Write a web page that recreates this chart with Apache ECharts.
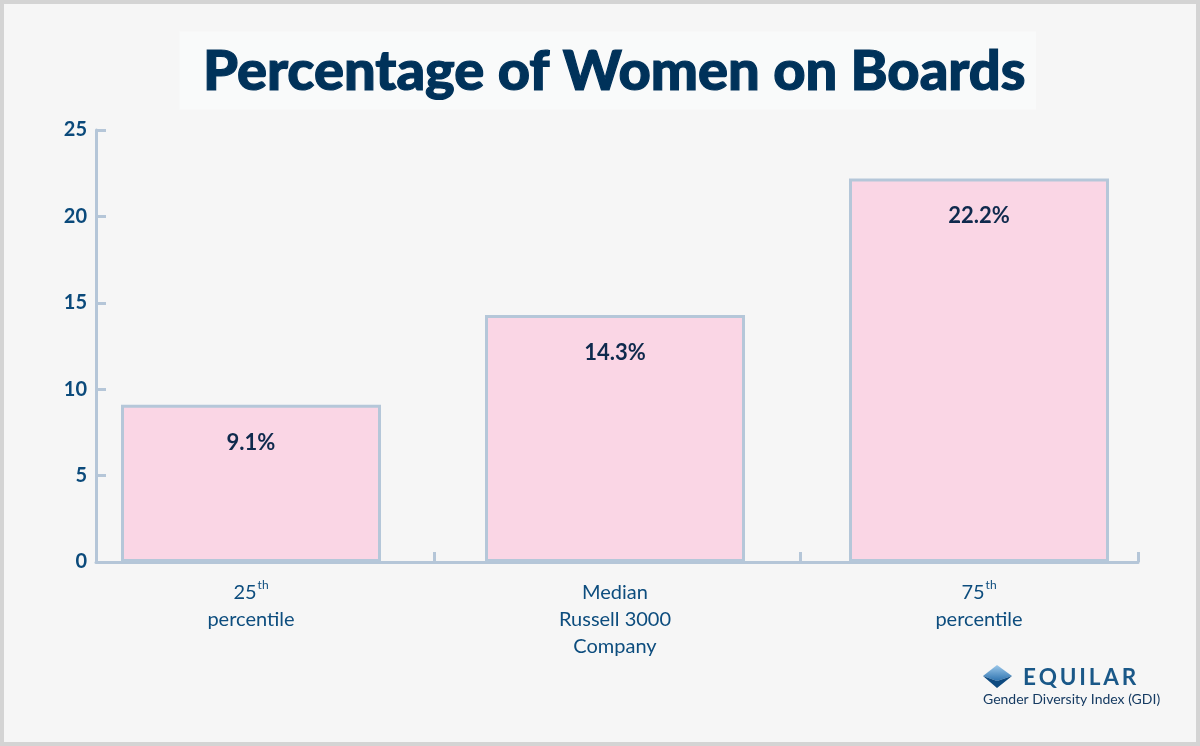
<!DOCTYPE html>
<html>
<head>
<meta charset="utf-8">
<script src="https://cdn.jsdelivr.net/npm/echarts@6/dist/echarts.min.js"></script>
<style>
html,body{margin:0;padding:0;background:#f6f6f6;}
#wrap{position:relative;width:1200px;height:746px;background:#f6f6f6;box-shadow:inset 0 0 0 4px #d4d4d4;}
#chart{position:absolute;left:0;top:0;width:1200px;height:746px;}
</style>
</head>
<body>
<div id="wrap"><div id="chart"></div></div>
<script>
const titleText = 'Percentage of Women on Boards';
const categories = ['{n|25}{s|th}\n{n|percentile}', '{n|Median}\n{n|Russell 3000}\n{n|Company}', '{n|75}{s|th}\n{n|percentile}'];
const values = [9.1, 14.3, 22.2];
const yTicks = [0, 5, 10, 15, 20, 25];

const axisColor = '#b5c6d8';
// fine slots used only to place the x-axis tick marks
const slotCount = 37;
const tickSlots = [0, 12, 25];
const slots = Array.from({length: slotCount}, function (_, i) { return 's' + i; });

const chart = echarts.init(document.getElementById('chart'));
chart.setOption({
  animation: false,
  title: {
    text: titleText,
    left: 180, top: 32,
    padding: [12, 10, 9, 23],
    backgroundColor: '#f9fafa',
    textStyle: {fontFamily: 'Lato', fontWeight: 900, fontSize: 56, color: '#00325a', textBorderColor: '#00325a', textBorderWidth: 1.2}
  },
  grid: [
    {left: 96, right: 62, top: 130, bottom: 184},
    {left: 69, right: 39, top: 130, bottom: 184}
  ],
  xAxis: [
    {gridIndex: 0, type: 'category', data: slots, boundaryGap: true,
     axisLine: {lineStyle: {color: axisColor, width: 3}},
     axisTick: {show: true, inside: true, length: 10, interval: function (i) { return tickSlots.indexOf(i) >= 0; }, lineStyle: {color: axisColor, width: 3}},
     axisLabel: {show: false}},
    {gridIndex: 1, type: 'category', data: categories, boundaryGap: true,
     axisLine: {show: false},
     axisTick: {show: false},
     axisLabel: {margin: 17, color: '#0d4d7e', fontFamily: 'Lato', fontSize: 20, lineHeight: 27,
       rich: {
         n: {fontFamily: 'Lato', fontSize: 20, lineHeight: 27, color: '#0d4d7e'},
         s: {fontFamily: 'Lato', fontSize: 12, lineHeight: 27, color: '#0d4d7e', verticalAlign: 'top', padding: [0, 0, 8, 1]}
       }}}
  ],
  yAxis: [
    {gridIndex: 0, type: 'value', min: yTicks[0], max: yTicks[yTicks.length - 1], interval: yTicks[1] - yTicks[0],
     axisLine: {show: true, lineStyle: {color: axisColor, width: 3}},
     axisTick: {show: true, inside: true, length: 10, lineStyle: {color: axisColor, width: 3}},
     splitLine: {show: false},
     axisLabel: {margin: 9, color: '#0b4a7b', fontFamily: 'Lato', fontWeight: 'bold', fontSize: 20}},
    {gridIndex: 1, type: 'value', min: yTicks[0], max: yTicks[yTicks.length - 1], show: false, splitLine: {show: false}}
  ],
  series: [{
    type: 'bar', xAxisIndex: 1, yAxisIndex: 1, data: values, barWidth: 260,
    itemStyle: {color: '#fad6e5', borderColor: '#b5c7d9', borderWidth: 3},
    label: {show: true, position: 'insideTop', distance: 27, formatter: '{c}%',
      fontFamily: 'Lato', fontWeight: 'bold', fontSize: 22, color: '#0f2a4d'}
  }],
  graphic: [
    {type: 'polygon', shape: {points: [[983, 676], [997, 665], [1012, 676], [997, 681]]},
     style: {fill: new echarts.graphic.LinearGradient(0, 0, 0, 1, [{offset: 0, color: '#9cc8ea'}, {offset: 1, color: '#2f74b0'}])}},
    {type: 'polygon', shape: {points: [[983, 676], [997, 681], [1012, 676], [997, 688]]},
     style: {fill: '#0e4a80'}},
    {type: 'text', left: 1023, top: 666,
     style: {text: 'E\u2009Q\u2009U\u2009I\u2009L\u2009A\u2009R', fontFamily: 'Lato', fontWeight: 'bold', fontSize: 22.5, fill: '#1a5888'}},
    {type: 'text', left: 983, top: 692,
     style: {text: 'Gender Diversity Index (GDI)', fontFamily: 'Lato', fontWeight: 'normal', fontSize: 14, fill: '#163b62'}}
  ]
});
</script>
</body>
</html>
